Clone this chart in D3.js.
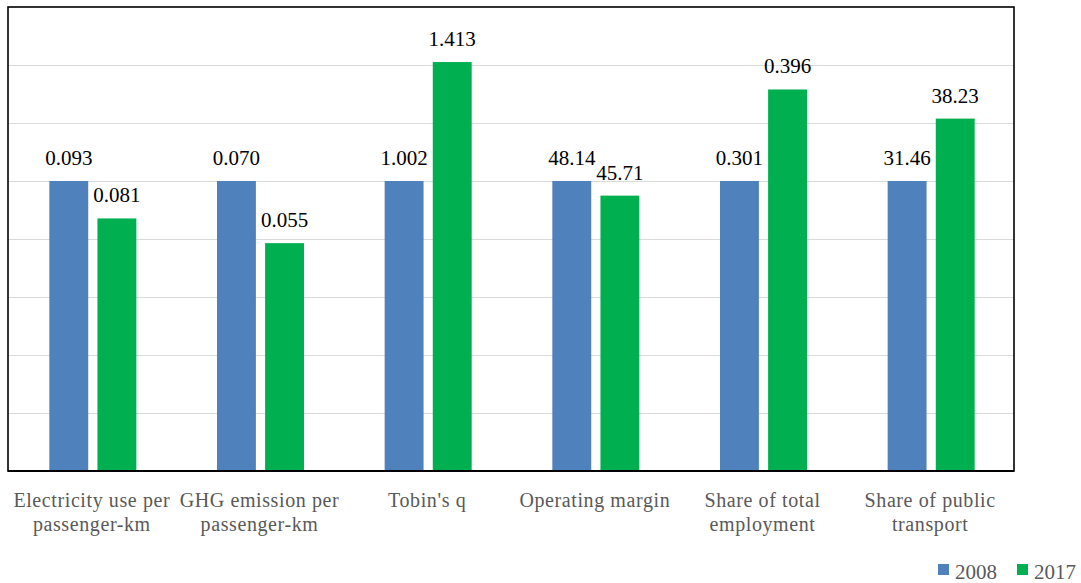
<!DOCTYPE html>
<html>
<head>
<meta charset="utf-8">
<script src="https://cdn.jsdelivr.net/npm/d3@7"></script>
</head>
<body style="margin:0;padding:0;background:#fff">
<svg id="chart" width="1081" height="583" style="display:block" font-family="Liberation Serif"></svg>
<script>
// Indicators compared between the two years
const categories = [
  ["Electricity use per", "passenger-km"],
  ["GHG emission per", "passenger-km"],
  ["Tobin's q"],
  ["Operating margin"],
  ["Share of total", "employment"],
  ["Share of public", "transport"]
];
const values2008 = [0.093, 0.070, 1.002, 48.14, 0.301, 31.46];
const values2017 = [0.081, 0.055, 1.413, 45.71, 0.396, 38.23];
const valueLabels2008 = ["0.093", "0.070", "1.002", "48.14", "0.301", "31.46"];
const valueLabels2017 = ["0.081", "0.055", "1.413", "45.71", "0.396", "38.23"];
const seriesNames = ["2008", "2017"];
const gridTicks = [0.2, 0.4, 0.6, 0.8, 1.0, 1.2, 1.4];

const colors = ["#4F81BD", "#00B050"];
const textGray = "#595959";
const serif = '"Liberation Serif", "Times New Roman", Tinos';

const svg = d3.select("#chart");
const plot = { left: 8, right: 1014, top: 7, bottom: 471 };

// Each indicator is indexed to its 2008 level (2008 = 1)
const rows = categories.map((c, i) => ({
  idx: i,
  lines: c,
  bars: [
    { s: 0, v: values2008[i], label: valueLabels2008[i], h: 1 },
    { s: 1, v: values2017[i], label: valueLabels2017[i], h: values2017[i] / values2008[i] }
  ]
}));

const x = d3.scaleBand()
  .domain(d3.range(categories.length))
  .range([plot.left, plot.right])
  .padding(0);

const y = d3.scaleLinear().domain([0, 1.6]).range([plot.bottom, plot.top]);

const bw = x.bandwidth();
const barW = bw * 0.232;
const barGap = bw * 0.055;
const groupOffset = (bw - (2 * barW + barGap)) / 2 + 1;
const barX = (i, s) => x(i) + groupOffset + s * (barW + barGap);

// Horizontal gridlines
svg.append("g")
  .selectAll("line")
  .data(gridTicks)
  .join("line")
  .attr("x1", plot.left)
  .attr("x2", plot.right)
  .attr("y1", d => Math.round(y(d)) + 0.5)
  .attr("y2", d => Math.round(y(d)) + 0.5)
  .attr("stroke", "#d9d9d9")
  .attr("stroke-width", 1.2);

// Bars
const groups = svg.append("g")
  .selectAll("g")
  .data(rows)
  .join("g");

groups.selectAll("rect")
  .data(d => d.bars.map(b => ({ ...b, idx: d.idx })))
  .join("rect")
  .attr("x", d => barX(d.idx, d.s))
  .attr("width", barW)
  .attr("y", d => y(d.h))
  .attr("height", d => y(0) - y(d.h))
  .attr("fill", d => colors[d.s]);

// Value labels above bars
groups.selectAll("text.val")
  .data(d => d.bars.map(b => ({ ...b, idx: d.idx })))
  .join("text")
  .attr("class", "val")
  .attr("x", d => barX(d.idx, d.s) + barW / 2)
  .attr("y", d => y(d.h) - 16)
  .attr("text-anchor", "middle")
  .style("font-family", serif)
  .style("font-size", "21px")
  .attr("fill", "#000")
  .text(d => d.label);

// Plot frame
svg.append("rect")
  .attr("x", plot.left)
  .attr("y", plot.top)
  .attr("width", plot.right - plot.left)
  .attr("height", plot.bottom - plot.top)
  .attr("fill", "none")
  .attr("stroke", "#000")
  .attr("stroke-width", 1.6);

svg.append("line")
  .attr("x1", plot.left)
  .attr("x2", plot.right)
  .attr("y1", plot.bottom)
  .attr("y2", plot.bottom)
  .attr("stroke", "#000")
  .attr("stroke-width", 2.2);

// Category labels
const xAxis = svg.append("g");
rows.forEach(r => {
  const t = xAxis.append("text")
    .attr("x", x(r.idx) + bw / 2)
    .attr("y", 507)
    .attr("text-anchor", "middle")
    .style("font-family", serif)
    .style("font-size", "20px")
    .style("letter-spacing", "0.6px")
    .attr("fill", textGray);
  r.lines.forEach((ln, k) => {
    t.append("tspan")
      .attr("x", x(r.idx) + bw / 2)
      .attr("dy", k === 0 ? 0 : 24)
      .text(ln);
  });
});

// Legend
const legendX = [938, 1017];
const legend = svg.append("g")
  .selectAll("g")
  .data(seriesNames)
  .join("g")
  .attr("transform", (d, i) => `translate(${legendX[i]},564)`);

legend.append("rect")
  .attr("width", 11)
  .attr("height", 11)
  .attr("fill", (d, i) => colors[i]);

legend.append("text")
  .attr("x", 17)
  .attr("y", 15)
  .style("font-family", serif)
  .style("font-size", "21px")
  .attr("fill", textGray)
  .text(d => d);
</script>
</body>
</html>
